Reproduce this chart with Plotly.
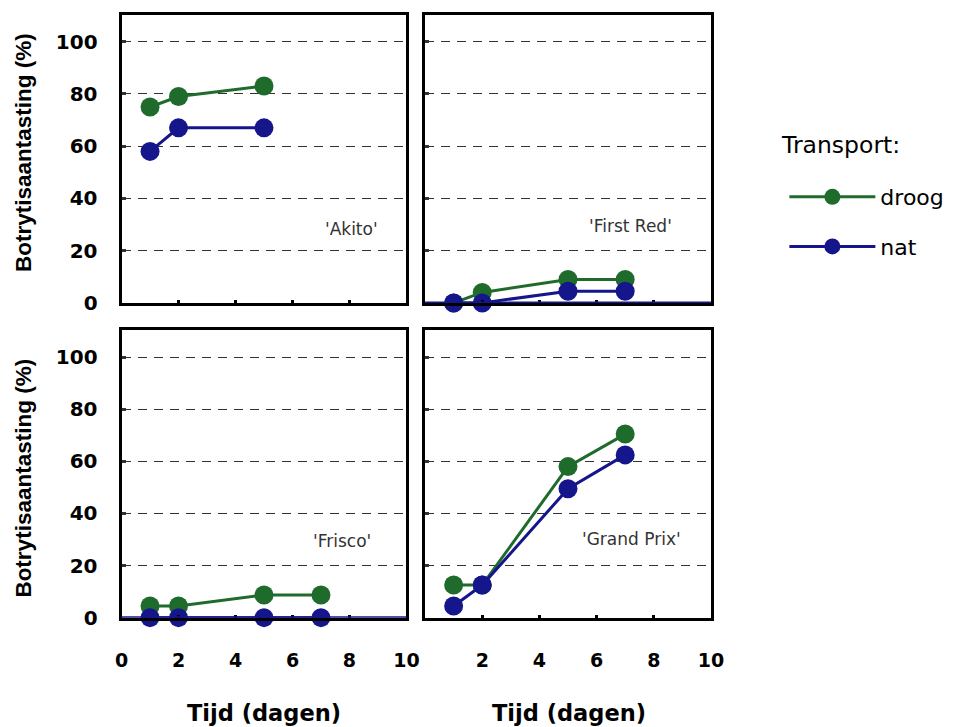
import plotly.graph_objects as go

# Days after harvest at which infection was scored
days = [1, 2, 5, 7]

# Botrytis infection (%) per cultivar, dry vs. wet transport
akito_days = [1, 2, 5]
akito_droog = [75, 79, 83]
akito_nat = [58, 67, 67]

firstred_droog = [0, 4, 9, 9]
firstred_nat = [0, 0, 4.5, 4.5]

frisco_droog = [4.5, 4.5, 8.7, 8.7]
frisco_nat = [0, 0, 0, 0]

grandprix_droog = [12.5, 12.5, 58, 70.5]
grandprix_nat = [4.5, 12.5, 49.5, 62.5]

cultivars = ["'Akito'", "'First Red'", "'Frisco'", "'Grand Prix'"]
y_ticks = [0, 20, 40, 60, 80, 100]
x_ticks = [0, 2, 4, 6, 8, 10]

GREEN = "#1f6b2c"
NAVY = "#16168c"
SANS = "Liberation Sans, Arial, sans-serif"
WIDE = "DejaVu Sans, Verdana, sans-serif"

W, H = 955, 727
# panel positions in pixels (left, right, top, bottom)
panels = [
    (117, 408, 15, 308),
    (427, 719, 15, 308),
    (117, 408, 336, 628),
    (427, 719, 336, 628),
]

fig = go.Figure()

series = [
    (akito_days, akito_droog, akito_nat),
    (days, firstred_droog, firstred_nat),
    (days, frisco_droog, frisco_nat),
    (days, grandprix_droog, grandprix_nat),
]

for i, (xs, dr, nt) in enumerate(series):
    ax = "" if i == 0 else str(i + 1)
    fig.add_trace(go.Scatter(
        x=xs, y=dr, mode="lines+markers", name="droog", legendgroup="droog",
        line=dict(color=GREEN, width=3), marker=dict(color=GREEN, size=19),
        xaxis="x" + ax, yaxis="y" + ax, cliponaxis=False,
        showlegend=(i == 0), legendrank=1,
    ))
    fig.add_trace(go.Scatter(
        x=xs, y=nt, mode="lines+markers", name="nat", legendgroup="nat",
        line=dict(color=NAVY, width=3), marker=dict(color=NAVY, size=19),
        xaxis="x" + ax, yaxis="y" + ax, cliponaxis=False,
        showlegend=(i == 0), legendrank=2,
    ))

layout = dict(
    width=W, height=H,
    margin=dict(l=0, r=0, t=0, b=0),
    paper_bgcolor="white", plot_bgcolor="white",
    font=dict(family=SANS, color="black"),
    legend=dict(
        x=794 / W, y=1 - 179 / H, xanchor="left", yanchor="top",
        font=dict(size=22, family=WIDE),
        itemwidth=86, tracegroupgap=18, bgcolor="rgba(0,0,0,0)",
    ),
)

for i, (l, r, t, b) in enumerate(panels):
    ax = "" if i == 0 else str(i + 1)
    bottom_row = i >= 2
    left_col = i % 2 == 0
    xlabels = [str(v) for v in x_ticks]
    if i == 3:
        xlabels[0] = ""
    layout["xaxis" + ax] = dict(
        domain=[l / W, r / W], range=[0, 10], anchor="y" + ax,
        tickvals=x_ticks, ticktext=xlabels,
        showticklabels=bottom_row, ticks="inside", ticklen=3, tickwidth=3,
        tickcolor="black", ticklabelstandoff=24,
        tickfont=dict(size=19, family=WIDE, weight="bold"),
        showgrid=False, zeroline=False,
        showline=True, mirror=True, linecolor="black", linewidth=3,
    )
    layout["yaxis" + ax] = dict(
        domain=[1 - b / H, 1 - t / H], range=[0, 110.3], anchor="x" + ax,
        tickvals=y_ticks, showticklabels=left_col,
        ticks="inside", ticklen=4, tickwidth=3, tickcolor="#333",
        ticklabelstandoff=17,
        tickfont=dict(size=20, family=WIDE, weight="bold"),
        showgrid=True, gridcolor="#333333", gridwidth=1.4, griddash="9px,7px",
        zeroline=False,
        showline=True, mirror=True, linecolor="black", linewidth=3,
    )

fig.update_layout(**layout)

# legend heading
fig.add_annotation(
    x=789 / W, y=1 - 147 / H, xref="paper", yref="paper",
    xanchor="left", yanchor="middle", text="Transport:", showarrow=False,
    font=dict(size=23.5, family=WIDE),
)

# cultivar labels inside each panel
label_pos = [(8.08, 28.4), (7.2, 29.4), (7.73, 29.6), (7.22, 30.2)]
for i, (name, (lx, ly)) in enumerate(zip(cultivars, label_pos)):
    ax = "" if i == 0 else str(i + 1)
    fig.add_annotation(
        x=lx, y=ly, xref="x" + ax, yref="y" + ax, text=name, showarrow=False,
        xanchor="center", yanchor="middle",
        font=dict(size=17, family=WIDE, color="#333"),
    )

# wet-transport line resting on the axis in the panels with no wet infection
for ax in ["2", "3"]:
    fig.add_shape(
        type="line", xref="x" + ax + " domain", yref="y" + ax,
        x0=0, x1=1, y0=0, y1=0,
        line=dict(color=NAVY, width=3), layer="above",
    )

# axis titles
for yc in [155, 486]:
    fig.add_annotation(
        x=17 / W, y=1 - yc / H, xref="paper", yref="paper",
        xanchor="center", yanchor="middle",
        text="Botrytisaantasting (%)", textangle=-90, showarrow=False,
        font=dict(size=22.5, family=SANS, weight="bold"),
    )
for xc in [262, 574]:
    fig.add_annotation(
        x=xc / W, y=0, xref="paper", yref="paper",
        xanchor="center", yanchor="bottom", yshift=-13,
        text="Tijd (dagen)", showarrow=False,
        font=dict(size=22.5, family=WIDE, weight="bold"),
    )

fig.write_html("out.html")
